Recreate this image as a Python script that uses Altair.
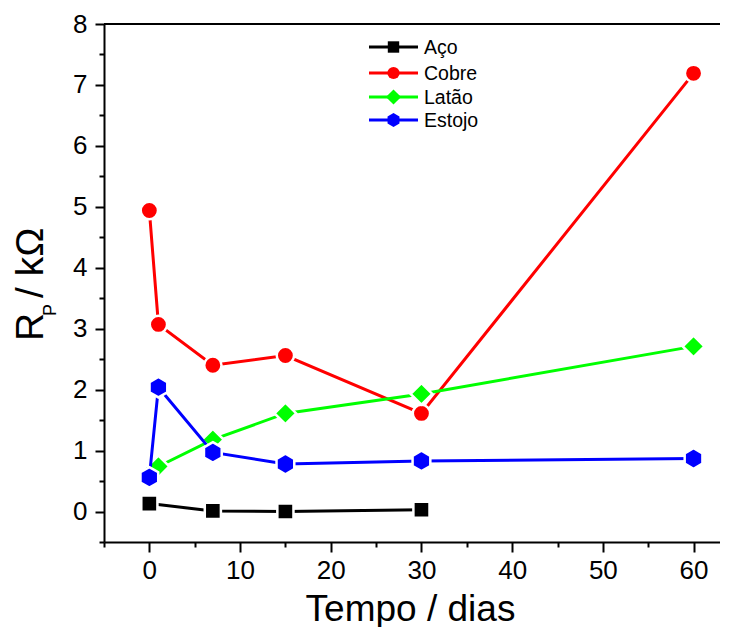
import altair as alt
import pandas as pd

# ---- data ----
series = ["Aço", "Cobre", "Latão", "Estojo"]
aco_x = [0, 7, 15, 30]
aco_y = [0.13, 0.01, 0.0, 0.03]
cobre_x = [0, 1, 7, 15, 30, 60]
cobre_y = [4.94, 3.07, 2.40, 2.56, 1.61, 7.19]
latao_x = [0, 1, 7, 15, 30, 60]
latao_y = [0.62, 0.74, 1.18, 1.61, 1.93, 2.71]
estojo_x = [0, 1, 7, 15, 30, 60]
estojo_y = [0.56, 2.04, 0.97, 0.78, 0.83, 0.87]

colors = ["#000000", "#ff0000", "#00ff00", "#0000ff"]
x_major = [0, 10, 20, 30, 40, 50, 60]
x_minor = [-5, 5, 15, 25, 35, 45, 55]
y_major = [0, 1, 2, 3, 4, 5, 6, 7, 8]
y_minor = [-0.5, 0.5, 1.5, 2.5, 3.5, 4.5, 5.5, 6.5, 7.5]

HEX = "M0,-1L0.866,-0.5L0.866,0.5L0,1L-0.866,0.5L-0.866,-0.5Z"
shapes = ["square", "circle", "diamond", HEX]
sizes = [260, 300, 470, 420]
leg_sizes = [130, 150, 230, 190]

W, H = 616, 518
FONT = "Liberation Sans"

xs = [aco_x, cobre_x, latao_x, estojo_x]
ys = [aco_y, cobre_y, latao_y, estojo_y]
frames = [pd.DataFrame({"x": a, "y": b, "s": n}) for a, b, n in zip(xs, ys, series)]

xscale = alt.Scale(domain=[-5, -5 + W / 9.07], nice=False, zero=False)
yscale = alt.Scale(domain=[-0.5, 8], nice=False, zero=False)

x_axis_major = alt.Axis(
    orient="bottom", values=x_major, tickSize=10, tickWidth=2, domainWidth=2,
    labelFontSize=26, labelPadding=5, labelFont=FONT, labelColor="black",
    title="Tempo / dias", titleFont=FONT, titleFontSize=37, titleFontWeight="normal",
    titleColor="black", titleX=306, titleY=78, titleBaseline="alphabetic",
    titleAlign="center", grid=False, domainColor="black", tickColor="black",
    labelFlush=False,
)
y_axis_major = alt.Axis(
    orient="left", values=y_major, tickSize=9, tickWidth=2, domainWidth=2,
    labelFontSize=26, labelPadding=8, labelFont=FONT, labelColor="black",
    title=None, grid=False, domainColor="black", tickColor="black",
)
x_axis_minor = alt.Axis(
    orient="bottom", values=x_minor, tickSize=5, tickWidth=2, labels=False,
    domain=False, title=None, grid=False, tickColor="black",
)
y_axis_minor = alt.Axis(
    orient="left", values=y_minor, tickSize=5, tickWidth=2, labels=False,
    domain=False, title=None, grid=False, tickColor="black",
)

layers = []
allpts = pd.concat(frames)
layers.append(
    alt.Chart(allpts).mark_point(opacity=0).encode(
        x=alt.X("x:Q", scale=xscale, axis=x_axis_major),
        y=alt.Y("y:Q", scale=yscale, axis=y_axis_major),
    )
)
layers.append(
    alt.Chart(allpts).mark_point(opacity=0).encode(
        x=alt.X("x:Q", scale=xscale, axis=x_axis_minor),
        y=alt.Y("y:Q", scale=yscale, axis=y_axis_minor),
    )
)

for df, col, shp, sz in zip(frames, colors, shapes, sizes):
    base = alt.Chart(df).encode(
        x=alt.X("x:Q", scale=xscale, axis=None),
        y=alt.Y("y:Q", scale=yscale, axis=None),
    )
    layers.append(base.mark_line(color=col, strokeWidth=3))
    layers.append(
        base.mark_point(shape=shp, size=sz, filled=True, fill=col, opacity=1,
                        stroke="white", strokeWidth=2.5, strokeOpacity=1)
    )

one = pd.DataFrame({"a": [0]})

# top frame line
layers.append(
    alt.Chart(one).mark_rule(color="black", strokeWidth=2).encode(
        x=alt.value(0), x2=alt.value(W), y=alt.value(0)
    )
)

# legend
leg_y = [23, 49, 73, 96]
for name, col, shp, sz, yy in zip(series, colors, shapes, leg_sizes, leg_y):
    layers.append(
        alt.Chart(one).mark_rule(color=col, strokeWidth=3).encode(
            x=alt.value(265), x2=alt.value(314), y=alt.value(yy)
        )
    )
    layers.append(
        alt.Chart(one).mark_point(shape=shp, size=sz, filled=True, fill=col, opacity=1).encode(
            x=alt.value(289.5), y=alt.value(yy)
        )
    )
    layers.append(
        alt.Chart(one).mark_text(align="left", baseline="middle", fontSize=19.5,
                                 font=FONT, color="black").encode(
            x=alt.value(320), y=alt.value(yy + 1), text=alt.value(name)
        )
    )

# y-axis title R_P / kΩ
layers.append(
    alt.Chart(one).mark_text(angle=270, align="left", baseline="alphabetic",
                             fontSize=39, font=FONT, color="black").encode(
        x=alt.value(-61), y=alt.value(317), text=alt.value("R")
    )
)
layers.append(
    alt.Chart(one).mark_text(angle=270, align="left", baseline="alphabetic",
                             fontSize=18, font=FONT, color="black").encode(
        x=alt.value(-48), y=alt.value(292), text=alt.value("P")
    )
)
layers.append(
    alt.Chart(one).mark_text(angle=270, align="left", baseline="alphabetic",
                             fontSize=39, font=FONT, color="black").encode(
        x=alt.value(-61), y=alt.value(274), text=alt.value("/ kΩ")
    )
)

chart = (
    alt.layer(*layers)
    .resolve_axis(x="independent", y="independent")
    .properties(
        width=W, height=H,
        autosize=alt.AutoSizeParams(type="none"),
        padding={"left": 96, "top": 16, "right": 0, "bottom": 85},
        background="white",
    )
    .configure_view(stroke=None)
)

chart.save("out.html", embed_options={"renderer": "svg", "actions": False})
